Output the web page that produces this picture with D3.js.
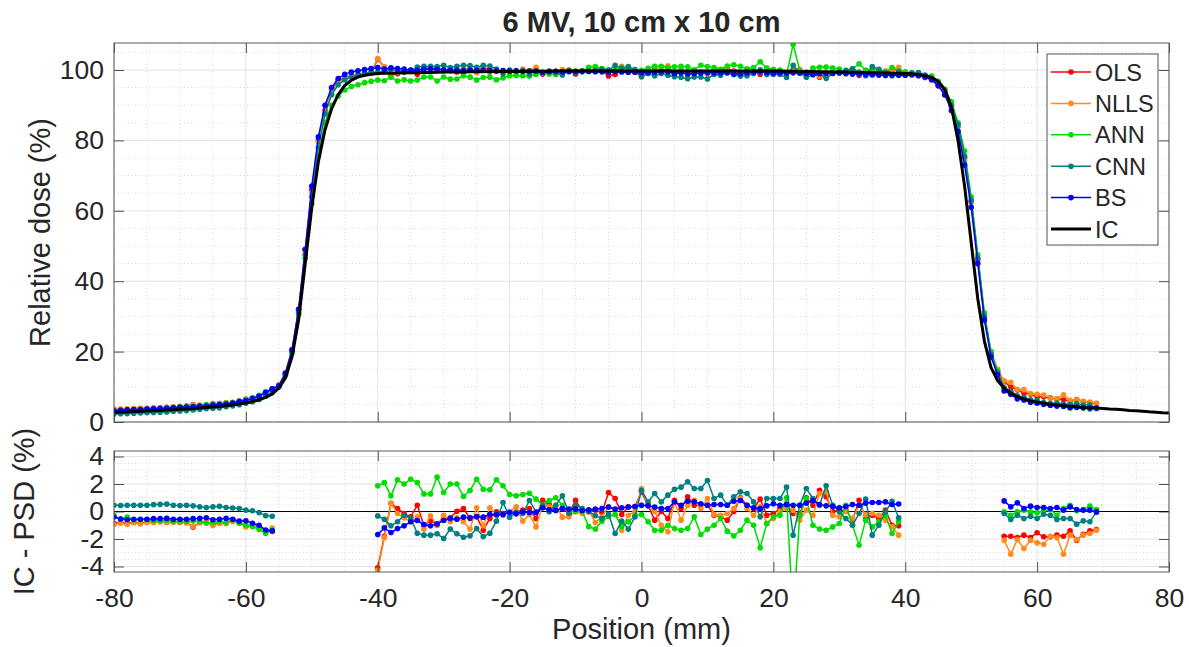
<!DOCTYPE html>
<html lang="en">
<head>
<meta charset="UTF-8">
<title>6 MV, 10 cm x 10 cm</title>
<script src="https://cdn.jsdelivr.net/npm/d3@7"></script>
<style>
    body { margin: 0; background-color: white; }
    text { font-family: "Liberation Sans", Arial, Helvetica, sans-serif; fill: #262626; }
</style>
</head>
<body>
<script>
// ---- data ----
// ion chamber (IC) reference profile, 1 mm steps from -80 to 80 mm
const icPos = d3.range(-80, 81);
const icDose = [
    2.75, 2.8, 2.85, 2.95, 3.0, 3.1, 3.2, 3.3, 3.4, 3.5,
    3.6, 3.7, 3.8, 3.95, 4.1, 4.25, 4.4, 4.6, 4.85, 5.1,
    5.4, 5.8, 6.3, 7.0, 8.0, 9.6, 12.5, 18.5, 29, 45,
    61, 74, 83, 89, 93, 95.6, 97.1, 98.0, 98.5, 98.8,
    99.0, 99.05, 99.1, 99.15, 99.2, 99.2, 99.25, 99.3, 99.3, 99.35,
    99.4, 99.4, 99.45, 99.45, 99.5, 99.5, 99.5, 99.55, 99.55, 99.6,
    99.6, 99.6, 99.6, 99.65, 99.65, 99.65, 99.65, 99.7, 99.7, 99.7,
    99.7, 99.7, 99.7, 99.7, 99.7, 99.7, 99.7, 99.7, 99.7, 99.7,
    99.7, 99.7, 99.7, 99.7, 99.7, 99.7, 99.7, 99.7, 99.7, 99.7,
    99.7, 99.7, 99.7, 99.7, 99.7, 99.7, 99.7, 99.7, 99.7, 99.7,
    99.7, 99.7, 99.65, 99.65, 99.6, 99.6, 99.55, 99.5, 99.5, 99.45,
    99.4, 99.4, 99.35, 99.3, 99.3, 99.25, 99.2, 99.15, 99.1, 99.05,
    99.0, 98.9, 98.7, 98.4, 97.9, 96.8, 94.5, 89.5, 80, 67,
    51, 35, 23, 15.5, 11.8, 9.6, 8.2, 7.2, 6.5, 6.0,
    5.6, 5.3, 5.0, 4.8, 4.6, 4.45, 4.3, 4.15, 4.05, 3.95,
    3.85, 3.7, 3.6, 3.45, 3.3, 3.2, 3.05, 2.9, 2.8, 2.65,
    2.55
];

// positions where IC - PSD is shown (tails and plateau)
const diffPos = d3.range(-80, -55).concat(d3.range(-40, 40), d3.range(55, 70));
// penumbra positions (only in the dose panel)
const penPos = d3.range(-55, -40).concat(d3.range(40, 55));

// IC - PSD (%) for each method, at diffPos
const olsDiff = [
    -0.85, -0.8, -0.85, -0.78, -0.85, -0.75, -0.78, -0.72, -0.78, -0.75,
    -0.78, -0.8, -1.15, -0.8, -0.75, -0.95, -0.85, -0.85, -0.7, -0.8,
    -1.05, -1.0, -1.1, -1.45, -1.45,
    -4.1, -1.8, 0.6, 0.22, -0.15, -0.39, 0.46, -1.04, -0.63, -1.0,
    -0.51, -0.46, 0.02, 0.22, -0.51, -0.39, -1.36, -0.51, -0.02, -0.15,
    -0.02, -0.02, 0.1, 0.22, -0.51, 0.82, 0.51, 0.1, 0.22, -0.15,
    0.82, 0.02, -0.02, 0.1, -0.07, 1.38, 0.95, -0.22, 0.34, 0.34,
    1.43, 0.46, -0.63, 0, -0.51, 0.82, 0.22, 1.07, 0.46, 0.46,
    0.46, -0.27, -0.39, -0.63, 0, 1.0, 0.46, 0.22, 0.9, -0.27,
    -0.15, 0.22, 0.46, -0.15, -0.15, 1.0, 0.46, 1.55, 1.07, 0,
    0.1, 0.1, -0.63, 0.82, -0.51, -0.27, -0.51, 0.1, -1.0, -1.04,
    -1.8, -1.8, -1.89, -1.72, -1.89, -1.55, -1.84, -1.84, -1.72, -1.8,
    -1.41, -2.09, -1.65, -1.41, -1.31
];
const nllsDiff = [
    -0.95, -0.85, -0.92, -0.82, -0.9, -0.8, -0.8, -0.75, -0.8, -0.78,
    -0.8, -0.82, -1.1, -0.82, -0.78, -1.02, -0.85, -0.88, -0.72, -0.82,
    -1.12, -1.0, -1.15, -1.5, -1.2,
    -4.27, -1.9, 0.58, -0.15, -0.46, -0.75, -0.39, -1.28, -0.32, -1.0,
    -0.27, -0.75, -0.46, -0.75, -1.28, 0.27, -1.04, 0.27, -0.27, -0.27,
    0.02, 0.34, -0.7, -0.22, -1.12, 0.46, 0.34, 0.46, -0.41, -0.39,
    -0.02, -0.15, 0.1, -0.8, -0.39, 0.34, 0.1, -1.36, -0.27, -0.02,
    1.67, 0.46, 0, -1.0, -1.48, 0.7, -0.63, 0.46, 0.82, 0.22,
    0.95, -0.22, -0.27, -0.15, 0.22, 0.95, 0.22, -0.27, 0.34, -0.87,
    -0.51, 0, 0.22, 0.1, -0.63, 0.1, -0.27, 1.31, 1.43, -0.27,
    -0.39, 0, -0.51, 0.46, -0.22, -0.15, -0.27, -0.63, -1.12, -1.72,
    -2.09, -3.1, -2.04, -2.69, -2.09, -2.28, -2.38, -1.8, -1.89, -3.1,
    -1.72, -2.04, -1.72, -1.6, -1.36
];
const annDiff = [
    -0.3, -0.55, -0.4, -0.62, -0.6, -0.58, -0.65, -0.66, -0.62, -0.7,
    -0.7, -0.72, -0.68, -0.75, -0.85, -0.8, -0.72, -0.8, -0.6, -0.85,
    -1.0, -1.1, -1.3, -1.6, -1.35,
    1.87, 2.1, 1.14, 2.3, 2.0, 2.35, 2.1, 1.28, 1.28, 2.5,
    1.38, 2.0, 2.0, 1.1, 1.53, 2.35, 1.62, 1.58, 2.3, 1.87,
    1.24, 1.14, 1.24, 1.33, 0.9, 0.46, 0.8, 1.0, 0.46, 0.0,
    0.0, 0.0, -1.1, -1.28, -0.7, -0.36, -0.22, -1.1, -0.75, -0.3,
    -0.22, -0.75, -1.36, -1.36, -1.0, -1.24, -1.36, -1.24, -0.39, -1.67,
    -1.28, -1.0, -0.51, -1.43, -1.77, -1.36, -0.63, -1.0, -2.64, -0.87,
    -0.39, -0.27, 1.0, -7.6, -0.27, 0.95, -1.0, -1.28, -1.36, -1.12,
    -0.87, 0.46, -1.0, -2.45, -0.63, -1.12, -0.75, -0.27, -1.6, -0.75,
    -0.03, -0.27, -0.03, 0.1, -0.03, -0.1, 0.05, 0.14, -0.27, 0.22,
    0.46, 0.05, 0.14, 0.39, 0.14
];
const cnnDiff = [
    0.46, 0.44, 0.46, 0.46, 0.46, 0.46, 0.5, 0.52, 0.54, 0.46,
    0.44, 0.46, 0.41, 0.34, 0.29, 0.34, 0.38, 0.29, 0.26, 0.21,
    0.1, 0.05, -0.08, -0.3, -0.35,
    -0.32, -0.56, -1.04, -0.75, -0.27, -0.51, -1.58, -1.72, -1.72, -1.62,
    -1.96, -1.28, -1.62, -1.87, -1.77, -1.24, -1.82, -1.58, -0.7, 0.65,
    -0.41, -0.07, -0.15, 0.8, -0.02, 0.41, -0.02, 0.46, 1.14, -0.12,
    0.46, 0.22, 0.0, -0.3, -0.51, -0.2, -1.6, -0.7, -1.28, -0.4,
    1.55, 0.7, 1.31, 0.7, 1.19, 1.62, 1.77, 2.16, 1.67, 1.67,
    2.25, 0.95, 1.19, 0.46, 1.07, 1.43, 1.31, 0.7, -0.39, 0.95,
    0.95, 0.95, 1.77, -1.72, 0.46, 1.67, 0.95, 0.46, 1.87, 0.46,
    -0.02, -0.51, -1.0, -0.15, 0.9, -1.72, -1.0, -0.02, 0.75, -0.46,
    -0.15, -0.58, -0.27, -0.51, -0.34, -0.51, -0.2, -0.27, -0.58, -0.51,
    -0.51, -0.92, -0.68, -0.75, -0.03
];
const bsDiff = [
    -0.4, -0.55, -0.6, -0.56, -0.56, -0.56, -0.52, -0.52, -0.5, -0.56,
    -0.56, -0.56, -0.52, -0.5, -0.45, -0.6, -0.56, -0.5, -0.56, -0.7,
    -0.68, -0.85, -1.0, -1.35, -1.4,
    -1.67, -1.19, -1.53, -1.24, -1.04, -0.75, -0.65, -0.95, -1.04, -0.9,
    -0.65, -0.51, -0.56, -0.41, -0.46, -0.36, -0.41, -0.22, -0.22, -0.22,
    -0.07, -0.17, -0.02, -0.07, -0.07, 0.27, 0.12, 0.07, 0.22, 0.17,
    0.17, 0.07, 0.12, 0.17, 0.22, 0.32, 0.17, 0.27, 0.32, 0.36,
    0.46, 0.41, 0.32, 0.22, 0.22, 0.7, 0.46, 0.75, 0.7, 0.56,
    0.46, 0.51, 0.51, 0.46, 0.75, 0.8, 0.46, 0.27, 0.22, 0.41,
    0.56, 0.46, 0.51, 0.46, 0.46, 0.61, 0.8, 0.51, 0.41, 0.36,
    0.27, 0.36, 0.51, 0.46, 0.61, 0.65, 0.65, 0.7, 0.51, 0.55,
    0.77, 0.34, 0.63, 0.22, 0.39, 0.29, 0.29, 0.22, 0.29, 0.1,
    0.34, 0.14, 0.1, 0.1, -0.03
];

// PSD relative dose (%) in the penumbrae, at penPos
const olsPen = [10.5, 14, 20.5, 32, 49, 66, 80, 88.5, 94.5, 97, 97.8, 98.3, 98.7, 99, 99.3,
    98.6, 98.9, 98.5, 97.9, 97.2, 95.5, 93, 89.5, 84, 75, 62.5, 46, 30, 19.5, 14.5];
const nllsPen = [10.6, 14, 20.5, 31.5, 48, 65, 79.5, 88, 94, 96.5, 97.5, 98.1, 98.5, 98.8, 99.6,
    98.8, 99.1, 98.6, 98.2, 97.4, 95.7, 93.2, 89.6, 84, 75, 62.5, 46.5, 30.5, 20, 15];
const annPen = [10, 13.3, 19.5, 30.5, 46.5, 62, 75.5, 85, 90, 92.6, 94.3, 95.3, 95.8, 96.4, 96.8,
    99.5, 99.0, 98.6, 98.4, 98.3, 96.8, 94.5, 91, 85, 77, 64, 47.5, 31, 20, 14.5];
const cnnPen = [10, 13.5, 20, 31, 47.5, 64, 78, 87.5, 93, 95.8, 97.2, 98, 98.6, 99, 99.4,
    98.8, 99.2, 99.3, 98.6, 97.6, 96.3, 94, 90, 84.5, 75.5, 63, 46.5, 30, 19.2, 14];
const bsPen = [10.3, 13.8, 20.5, 32, 49, 67, 81, 90, 95, 97.6, 98.8, 99.4, 99.8, 100.1, 100.4,
    98.5, 98.6, 98.4, 98.1, 97.3, 95.6, 93, 88.5, 82.5, 73, 61, 45, 29, 18.5, 13.5];

const methodNames = ["OLS", "NLLS", "ANN", "CNN", "BS"];
const methodColors = ["#ff0000", "#ff8c1a", "#00dd00", "#008080", "#0000ff"];

const xTicks = [-80, -60, -40, -20, 0, 20, 40, 60, 80];
const doseTicks = [0, 20, 40, 60, 80, 100];
const diffTicks = [-4, -2, 0, 2, 4];

// ---- layout ----
const W = 1189, H = 647;
const left = 114, right = 1169;
const topPanel = {top: 43, bottom: 422};
const botPanel = {top: 451, bottom: 572};

const svg = d3.select("body").append("svg")
    .attr("width", W)
    .attr("height", H)
    .style("background-color", "white");

const x = d3.scaleLinear().domain([-80, 80]).range([left, right]);
const yDose = d3.scaleLinear().domain([0, 107.67]).range([topPanel.bottom, topPanel.top]);
const yDiff = d3.scaleLinear().domain([-4.4, 4.4]).range([botPanel.bottom, botPanel.top]);

const methods = methodNames.map((name, i) => ({
    name: name,
    color: methodColors[i],
    diff: [olsDiff, nllsDiff, annDiff, cnnDiff, bsDiff][i],
    pen: [olsPen, nllsPen, annPen, cnnPen, bsPen][i]
}));

// dose profile of a method = IC minus the difference, plus the penumbra readings
methods.forEach(m => {
    const pts = diffPos.map((p, j) => ({x: p, y: icDose[icPos.indexOf(p)] - m.diff[j]}))
        .concat(penPos.map((p, j) => ({x: p, y: m.pen[j]})));
    m.dose = pts.sort((a, b) => a.x - b.x);
    // difference points, with a break wherever positions jump
    m.diffPts = [];
    diffPos.forEach((p, j) => {
        if (j > 0 && p - diffPos[j - 1] > 1.5) m.diffPts.push(null);
        m.diffPts.push({x: p, y: m.diff[j]});
    });
});

function drawPanel(y, panel, ticks, minorStep, clipId) {
    const g = svg.append("g");
    const yd = y.domain();

    // minor grid
    const xMinor = d3.range(-80, 80.01, 5).filter(v => xTicks.indexOf(v) < 0);
    const yMinor = d3.range(Math.ceil(yd[0] / minorStep) * minorStep, yd[1], minorStep)
        .filter(v => ticks.indexOf(Math.round(v * 100) / 100) < 0);
    g.selectAll(".xminor").data(xMinor).enter().append("line")
        .attr("x1", d => x(d)).attr("x2", d => x(d))
        .attr("y1", panel.top).attr("y2", panel.bottom)
        .attr("stroke", "#c8c8c8").attr("stroke-width", 0.7).attr("stroke-dasharray", "1,2.5");
    g.selectAll(".yminor").data(yMinor).enter().append("line")
        .attr("x1", left).attr("x2", right)
        .attr("y1", d => y(d)).attr("y2", d => y(d))
        .attr("stroke", "#c8c8c8").attr("stroke-width", 0.7).attr("stroke-dasharray", "1,2.5");

    // major grid
    g.selectAll(".xgrid").data(xTicks).enter().append("line")
        .attr("x1", d => x(d)).attr("x2", d => x(d))
        .attr("y1", panel.top).attr("y2", panel.bottom)
        .attr("stroke", "#e3e3e3").attr("stroke-width", 1);
    g.selectAll(".ygrid").data(ticks).enter().append("line")
        .attr("x1", left).attr("x2", right)
        .attr("y1", d => y(d)).attr("y2", d => y(d))
        .attr("stroke", "#e3e3e3").attr("stroke-width", 1);

    svg.append("clipPath").attr("id", clipId)
        .append("rect")
        .attr("x", left).attr("y", panel.top)
        .attr("width", right - left).attr("height", panel.bottom - panel.top);
    return g;
}

function drawAxes(y, panel, ticks, showX) {
    const g = svg.append("g");
    const noLabel = () => "";
    g.append("g").attr("transform", `translate(0,${panel.bottom})`)
        .call(d3.axisBottom(x).tickValues(xTicks).tickSize(-10).tickPadding(16)
            .tickFormat(showX ? (d => String(d)) : noLabel));
    g.append("g").attr("transform", `translate(0,${panel.top})`)
        .call(d3.axisTop(x).tickValues(xTicks).tickSize(-10).tickFormat(noLabel));
    g.append("g").attr("transform", `translate(${left},0)`)
        .call(d3.axisLeft(y).tickValues(ticks).tickSize(-10).tickPadding(10).tickFormat(d => String(d)));
    g.append("g").attr("transform", `translate(${right},0)`)
        .call(d3.axisRight(y).tickValues(ticks).tickSize(-10).tickFormat(noLabel));
    g.selectAll(".domain").remove();
    g.selectAll(".tick line").attr("stroke", "#262626").attr("stroke-width", 0.8);
    g.selectAll(".tick text").style("font-size", "26.5px").attr("fill", "#262626");
    g.append("rect")
        .attr("x", left).attr("y", panel.top)
        .attr("width", right - left).attr("height", panel.bottom - panel.top)
        .attr("fill", "none").attr("stroke", "#5a5a5a").attr("stroke-width", 1);
}

// ---- top panel: relative dose ----
drawPanel(yDose, topPanel, doseTicks, 5, "clipTop");
const topG = svg.append("g").attr("clip-path", "url(#clipTop)");
const doseLine = d3.line().x(d => x(d.x)).y(d => yDose(d.y));

methods.forEach(m => {
    topG.append("path").datum(m.dose)
        .attr("d", doseLine)
        .attr("fill", "none").attr("stroke", m.color).attr("stroke-width", 1.5);
    topG.selectAll(null).data(m.dose).enter().append("circle")
        .attr("cx", d => x(d.x)).attr("cy", d => yDose(d.y)).attr("r", 2.8)
        .attr("fill", m.color);
});
topG.append("path").datum(icPos.map((p, i) => ({x: p, y: icDose[i]})))
    .attr("d", doseLine)
    .attr("fill", "none").attr("stroke", "black").attr("stroke-width", 3)
    .attr("stroke-linejoin", "round");
drawAxes(yDose, topPanel, doseTicks, false);

// ---- bottom panel: IC - PSD ----
drawPanel(yDiff, botPanel, diffTicks, 0.5, "clipBot");
const botG = svg.append("g").attr("clip-path", "url(#clipBot)");
botG.append("line")
    .attr("x1", left).attr("x2", right)
    .attr("y1", yDiff(0)).attr("y2", yDiff(0))
    .attr("stroke", "black").attr("stroke-width", 1);
const diffLine = d3.line().defined(d => d !== null).x(d => x(d.x)).y(d => yDiff(d.y));
methods.forEach(m => {
    botG.append("path").datum(m.diffPts)
        .attr("d", diffLine)
        .attr("fill", "none").attr("stroke", m.color).attr("stroke-width", 1.5);
    botG.selectAll(null).data(m.diffPts.filter(d => d !== null)).enter().append("circle")
        .attr("cx", d => x(d.x)).attr("cy", d => yDiff(d.y)).attr("r", 2.8)
        .attr("fill", m.color);
});
drawAxes(yDiff, botPanel, diffTicks, true);

// ---- labels ----
svg.append("text")
    .attr("x", (left + right) / 2).attr("y", 32)
    .attr("text-anchor", "middle")
    .style("font-size", "29px").style("font-weight", "bold")
    .attr("fill", "#000")
    .text("6 MV, 10 cm x 10 cm");

svg.append("text")
    .attr("transform", `translate(49.5,${(topPanel.top + topPanel.bottom) / 2}) rotate(-90)`)
    .attr("text-anchor", "middle")
    .style("font-size", "29px")
    .text("Relative dose (%)");

svg.append("text")
    .attr("transform", `translate(34,${(botPanel.top + botPanel.bottom) / 2}) rotate(-90)`)
    .attr("text-anchor", "middle")
    .style("font-size", "29px")
    .text("IC - PSD (%)");

// sits right at the bottom edge, as in the original figure
svg.append("text")
    .attr("x", (left + right) / 2).attr("y", 639)
    .attr("text-anchor", "middle")
    .style("font-size", "29px")
    .text("Position (mm)");

// ---- legend ----
const legend = svg.append("g");
legend.append("rect")
    .attr("x", 1047).attr("y", 54).attr("width", 111).attr("height", 191)
    .attr("fill", "white").attr("stroke", "#262626").attr("stroke-width", 0.8);
const entries = methods.map(m => ({name: m.name, color: m.color, marker: true}))
    .concat([{name: "IC", color: "black", marker: false}]);
const item = legend.selectAll(".item").data(entries).enter().append("g")
    .attr("transform", (d, i) => `translate(0,${72 + i * 31.4})`);
item.append("line")
    .attr("x1", 1051).attr("x2", 1091)
    .attr("stroke", d => d.color)
    .attr("stroke-width", d => d.marker ? 1.5 : 3);
item.filter(d => d.marker).append("circle")
    .attr("cx", 1071).attr("r", 2.8).attr("fill", d => d.color);
item.append("text")
    .attr("x", 1095).attr("y", 8.5)
    .style("font-size", "23.5px")
    .attr("fill", "#000")
    .text(d => d.name);
</script>
</body>
</html>
